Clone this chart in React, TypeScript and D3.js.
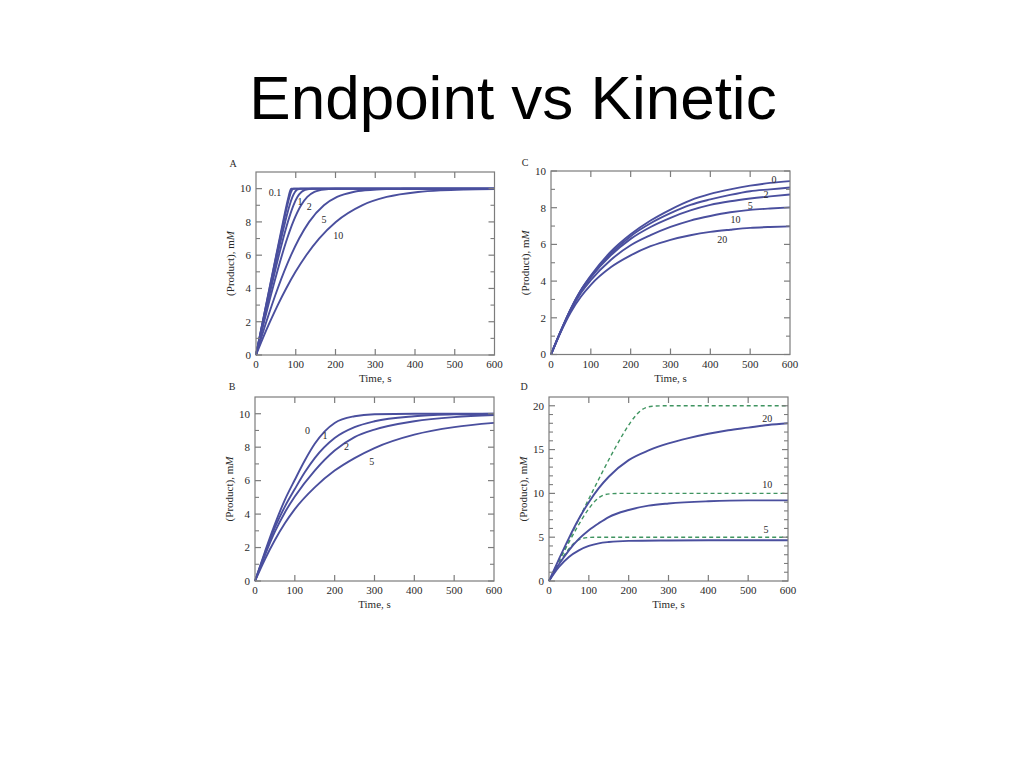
import React from 'react';
import * as d3 from 'd3';

type Pt = [number, number];

// ---------- shared axis values ----------
const timeTicks = [0, 100, 200, 300, 400, 500, 600];
const yMajorA = [0, 2, 4, 6, 8, 10];
const yMinorA = [1, 3, 5, 7, 9];
const yMajorC = [0, 2, 4, 6, 8, 10];
const yMinorC = [1, 3, 5, 7, 9];
const yMajorD = [0, 5, 10, 15, 20];
const yMinorD = [1, 2, 3, 4, 6, 7, 8, 9, 11, 12, 13, 14, 16, 17, 18, 19];

// ---------- Panel A: product vs time for several Km ----------
const aKm01: Pt[] = [[0, 0], [16.9, 2], [33.8, 4], [50.8, 6], [68, 8], [76.9, 9], [81.7, 9.5], [84.9, 9.8], [86.3, 9.9], [87.3, 9.95], [89, 9.99], [100, 10], [600, 10]];
const aKm02: Pt[] = [[0, 0], [17, 2], [34.2, 4], [51.5, 6], [69.4, 8], [78.8, 9], [84.2, 9.5], [88.2, 9.8], [90.2, 9.9], [91.8, 9.95], [94.8, 9.99], [110, 10], [600, 10]];
const aKm05: Pt[] = [[0, 0], [17.6, 2], [35.5, 4], [53.8, 6], [73.4, 8], [84.6, 9], [91.7, 9.5], [98, 9.8], [101.7, 9.9], [105, 9.95], [112, 9.99], [130, 10], [600, 10]];
const aKm1: Pt[] = [[0, 0], [18.5, 2], [37.6, 4], [57.6, 6], [68.4, 7], [80.1, 8], [94.2, 9], [104.1, 9.5], [114.3, 9.8], [120.9, 9.9], [127.1, 9.95], [140.8, 9.99], [160, 10], [600, 10]];
const aKm2: Pt[] = [[0, 0], [20.4, 2], [41.9, 4], [65.3, 6], [78.4, 7], [93.5, 8], [113.4, 9], [129.1, 9.5], [146.9, 9.8], [159.3, 9.9], [171.2, 9.95], [198.4, 9.99], [230, 10], [600, 10]];
const aKm5: Pt[] = [[0, 0], [26, 2], [54.6, 4], [88.2, 6], [108.5, 7], [133.7, 8], [170.9, 9], [204, 9.5], [244.7, 9.8], [274.4, 9.9], [303.7, 9.95], [371.1, 9.99], [420, 10], [600, 10]];
const aKm10: Pt[] = [[0, 0], [17.1, 1], [35.3, 2], [54.7, 3], [75.9, 4], [99.4, 5], [126.4, 6], [158.7, 7], [200.8, 8], [266.9, 9], [328.8, 9.5], [407.7, 9.8], [466.3, 9.9], [524.4, 9.95], [600, 9.98]];
const aLabels = ['0.1', '1', '2', '5', '10'];
const aLabelPos: Pt[] = [[48, 9.74], [111, 9.23], [134, 8.9], [171, 8.15], [207, 7.2]];

// ---------- Panel B ----------
const b0: Pt[] = [[0, 0], [25, 1.75], [50, 3.4], [75, 4.85], [100, 6.05], [125, 7.2], [150, 8.2], [175, 8.95], [200, 9.45], [250, 9.85], [300, 9.97], [400, 10], [600, 10]];
const b1: Pt[] = [[0, 0], [25, 1.65], [50, 3.2], [75, 4.45], [100, 5.5], [125, 6.5], [150, 7.35], [200, 8.55], [250, 9.2], [300, 9.55], [400, 9.85], [500, 9.96], [600, 10]];
const b2: Pt[] = [[0, 0], [25, 1.55], [50, 2.95], [75, 4.1], [100, 5.05], [150, 6.6], [200, 7.8], [250, 8.6], [300, 9.05], [400, 9.55], [500, 9.8], [600, 9.92]];
const b5: Pt[] = [[0, 0], [25, 1.3], [50, 2.45], [75, 3.45], [100, 4.3], [150, 5.6], [200, 6.6], [250, 7.35], [300, 7.95], [400, 8.75], [500, 9.2], [600, 9.45]];
const bLabels = ['0', '1', '2', '5'];
const bLabelPos: Pt[] = [[132, 9.0], [176, 8.7], [230, 8.04], [293, 7.14]];

// ---------- Panel C ----------
const c0: Pt[] = [[0, 0], [25, 1.3], [50, 2.5], [75, 3.5], [100, 4.3], [150, 5.6], [200, 6.55], [250, 7.3], [300, 7.9], [350, 8.4], [400, 8.75], [450, 9.0], [500, 9.2], [550, 9.35], [600, 9.45]];
const c2: Pt[] = [[0, 0], [25, 1.3], [50, 2.5], [75, 3.5], [100, 4.25], [150, 5.5], [200, 6.45], [250, 7.15], [300, 7.7], [350, 8.15], [400, 8.45], [450, 8.7], [500, 8.9], [550, 9.0], [600, 9.1]];
const c5: Pt[] = [[0, 0], [25, 1.3], [50, 2.48], [75, 3.45], [100, 4.2], [150, 5.4], [200, 6.3], [250, 6.95], [300, 7.45], [350, 7.85], [400, 8.15], [450, 8.35], [500, 8.5], [550, 8.62], [600, 8.72]];
const c10: Pt[] = [[0, 0], [25, 1.28], [50, 2.42], [75, 3.35], [100, 4.05], [150, 5.15], [200, 5.95], [250, 6.5], [300, 6.95], [350, 7.3], [400, 7.55], [450, 7.75], [500, 7.88], [550, 7.96], [600, 8.02]];
const c20: Pt[] = [[0, 0], [25, 1.25], [50, 2.32], [75, 3.15], [100, 3.8], [150, 4.75], [200, 5.4], [250, 5.9], [300, 6.25], [350, 6.5], [400, 6.68], [450, 6.8], [500, 6.9], [550, 6.95], [600, 6.98]];
const cLabels = ['0', '2', '5', '10', '20'];
const cLabelPos: Pt[] = [[560, 9.55], [540, 8.7], [500, 8.1], [463, 7.35], [430, 6.25]];

// ---------- Panel D ----------
const d20: Pt[] = [[0, 0], [25, 2.5], [50, 4.9], [75, 7.1], [100, 9.0], [125, 10.6], [150, 11.9], [200, 13.8], [250, 14.9], [300, 15.7], [350, 16.3], [400, 16.8], [450, 17.2], [500, 17.5], [550, 17.8], [600, 18.0]];
const d10: Pt[] = [[0, 0], [25, 1.9], [50, 3.5], [75, 4.8], [100, 5.8], [125, 6.6], [150, 7.3], [200, 8.1], [250, 8.6], [300, 8.85], [400, 9.1], [500, 9.2], [600, 9.2]];
const d5: Pt[] = [[0, 0], [25, 1.6], [50, 2.75], [75, 3.5], [100, 4.0], [125, 4.3], [150, 4.45], [200, 4.58], [300, 4.63], [400, 4.65], [600, 4.65]];
const dd20: Pt[] = [[0, 0], [52.9, 5], [106.9, 10], [163.9, 15], [189, 17], [203, 18], [220, 19], [231.9, 19.5], [244, 19.8], [259.4, 19.95], [290, 20], [600, 20]];
const dd10: Pt[] = [[0, 0], [33.6, 3], [69.2, 6], [96.1, 8], [113, 9], [125, 9.5], [137.1, 9.8], [152.5, 9.95], [180, 10], [600, 10]];
const dd5: Pt[] = [[0, 0], [25.1, 2], [39.2, 3], [56.1, 4], [68, 4.5], [80.2, 4.8], [95.6, 4.95], [120, 5], [600, 5]];
const dLabels = ['20', '10', '5'];
const dLabelPos: Pt[] = [[548, 18.6], [548, 10.97], [545, 5.83]];

// ---------- styling ----------
const BLUE = '#4a4f9e';
const GREEN = '#3f9460';
const FRAME = '#7c7c7c';
const TXT = '#2a2a2a';
const SERIF = '"Liberation Serif", "DejaVu Serif", serif';

interface Frame { left: number; right: number; top: number; bottom: number }
interface Series { data: Pt[]; dashed?: boolean }
interface PanelProps {
  frame: Frame;
  yDomain: [number, number];
  yMajor: number[];
  yMinor: number[];
  letter: string;
  letterPos: [number, number];
  series: Series[];
  labels: string[];
  labelPos: Pt[];
}

function Panel(p: PanelProps) {
  const { frame } = p;
  const x = d3.scaleLinear().domain([0, 600]).range([frame.left, frame.right]);
  const y = d3.scaleLinear().domain(p.yDomain).range([frame.bottom, frame.top]);
  const line = d3.line<Pt>().x(d => x(d[0])).y(d => y(d[1])).curve(d3.curveMonotoneX);
  const inner = timeTicks.filter(t => t > 0 && t < 600);
  const majL = 6;
  const minL = 4;
  return (
    <g>
      <text x={p.letterPos[0]} y={p.letterPos[1]} fontFamily={SERIF} fontSize={10} fill={TXT} textAnchor="middle">{p.letter}</text>
      {p.series.map((s, i) => (
        <path key={i} d={line(s.data) || ''} fill="none"
          stroke={s.dashed ? GREEN : BLUE}
          strokeWidth={s.dashed ? 1.4 : 1.9}
          strokeDasharray={s.dashed ? '4 3' : undefined}
          strokeLinejoin="round" />
      ))}
      <rect x={frame.left} y={frame.top} width={frame.right - frame.left} height={frame.bottom - frame.top}
        fill="none" stroke={FRAME} strokeWidth={1.2} />
      {inner.map(t => (
        <g key={'xt' + t}>
          <line x1={x(t)} x2={x(t)} y1={frame.bottom} y2={frame.bottom - majL} stroke={FRAME} strokeWidth={1.2} />
          <line x1={x(t)} x2={x(t)} y1={frame.top} y2={frame.top + majL} stroke={FRAME} strokeWidth={1.2} />
        </g>
      ))}
      {p.yMajor.map(v => (
        <g key={'ym' + v}>
          <line x1={frame.left} x2={frame.left + majL} y1={y(v)} y2={y(v)} stroke={FRAME} strokeWidth={1.2} />
          <line x1={frame.right} x2={frame.right - majL} y1={y(v)} y2={y(v)} stroke={FRAME} strokeWidth={1.2} />
        </g>
      ))}
      {p.yMinor.map(v => (
        <g key={'yn' + v}>
          <line x1={frame.left} x2={frame.left + minL} y1={y(v)} y2={y(v)} stroke={FRAME} strokeWidth={1.1} />
          <line x1={frame.right} x2={frame.right - minL} y1={y(v)} y2={y(v)} stroke={FRAME} strokeWidth={1.1} />
        </g>
      ))}
      {timeTicks.map(t => (
        <text key={'xl' + t} x={x(t)} y={frame.bottom + 13} fontFamily={SERIF} fontSize={11} fill={TXT} textAnchor="middle">{t}</text>
      ))}
      {p.yMajor.map(v => (
        <text key={'yl' + v} x={frame.left - 5} y={y(v)} dy="0.35em" fontFamily={SERIF} fontSize={11} fill={TXT} textAnchor="end">{v}</text>
      ))}
      <text x={(frame.left + frame.right) / 2} y={frame.bottom + 27} fontFamily={SERIF} fontSize={11} fill={TXT} textAnchor="middle">Time, s</text>
      <text transform={`translate(${frame.left - 22},${(frame.top + frame.bottom) / 2}) rotate(-90)`}
        fontFamily={SERIF} fontSize={11} fill={TXT} textAnchor="middle">
        (Product), m<tspan fontStyle="italic">M</tspan>
      </text>
      {p.labels.map((l, i) => (
        <text key={'lab' + i} x={x(p.labelPos[i][0])} y={y(p.labelPos[i][1])} dy="0.35em"
          fontFamily={SERIF} fontSize={10} fill={TXT} textAnchor="middle">{l}</text>
      ))}
    </g>
  );
}

export default function App() {
  return (
    <svg width={1024} height={768} style={{ position: 'absolute', left: 0, top: 0, background: '#fff' }}>
      <rect x={0} y={0} width={1024} height={768} fill="#fff" />
      <text x={513} y={119} textAnchor="middle" fontFamily='"Liberation Sans", Arial, sans-serif' fontSize={62} fill="#000">Endpoint vs Kinetic</text>
      <Panel frame={{ left: 256, right: 494.5, top: 172, bottom: 355 }} yDomain={[0, 11]}
        yMajor={yMajorA} yMinor={yMinorA} letter="A" letterPos={[233, 167]}
        series={[aKm01, aKm02, aKm05, aKm1, aKm2, aKm5, aKm10].map(d => ({ data: d }))}
        labels={aLabels} labelPos={aLabelPos} />
      <Panel frame={{ left: 551, right: 790, top: 171, bottom: 354.5 }} yDomain={[0, 10]}
        yMajor={yMajorC} yMinor={yMinorC} letter="C" letterPos={[525, 166]}
        series={[c0, c2, c5, c10, c20].map(d => ({ data: d }))}
        labels={cLabels} labelPos={cLabelPos} />
      <Panel frame={{ left: 255, right: 494, top: 397, bottom: 581 }} yDomain={[0, 11]}
        yMajor={yMajorA} yMinor={yMinorA} letter="B" letterPos={[232, 390]}
        series={[b0, b1, b2, b5].map(d => ({ data: d }))}
        labels={bLabels} labelPos={bLabelPos} />
      <Panel frame={{ left: 549, right: 788, top: 397, bottom: 581 }} yDomain={[0, 21]}
        yMajor={yMajorD} yMinor={yMinorD} letter="D" letterPos={[524, 390]}
        series={[
          { data: dd20, dashed: true }, { data: dd10, dashed: true }, { data: dd5, dashed: true },
          { data: d20 }, { data: d10 }, { data: d5 },
        ]}
        labels={dLabels} labelPos={dLabelPos} />
    </svg>
  );
}
